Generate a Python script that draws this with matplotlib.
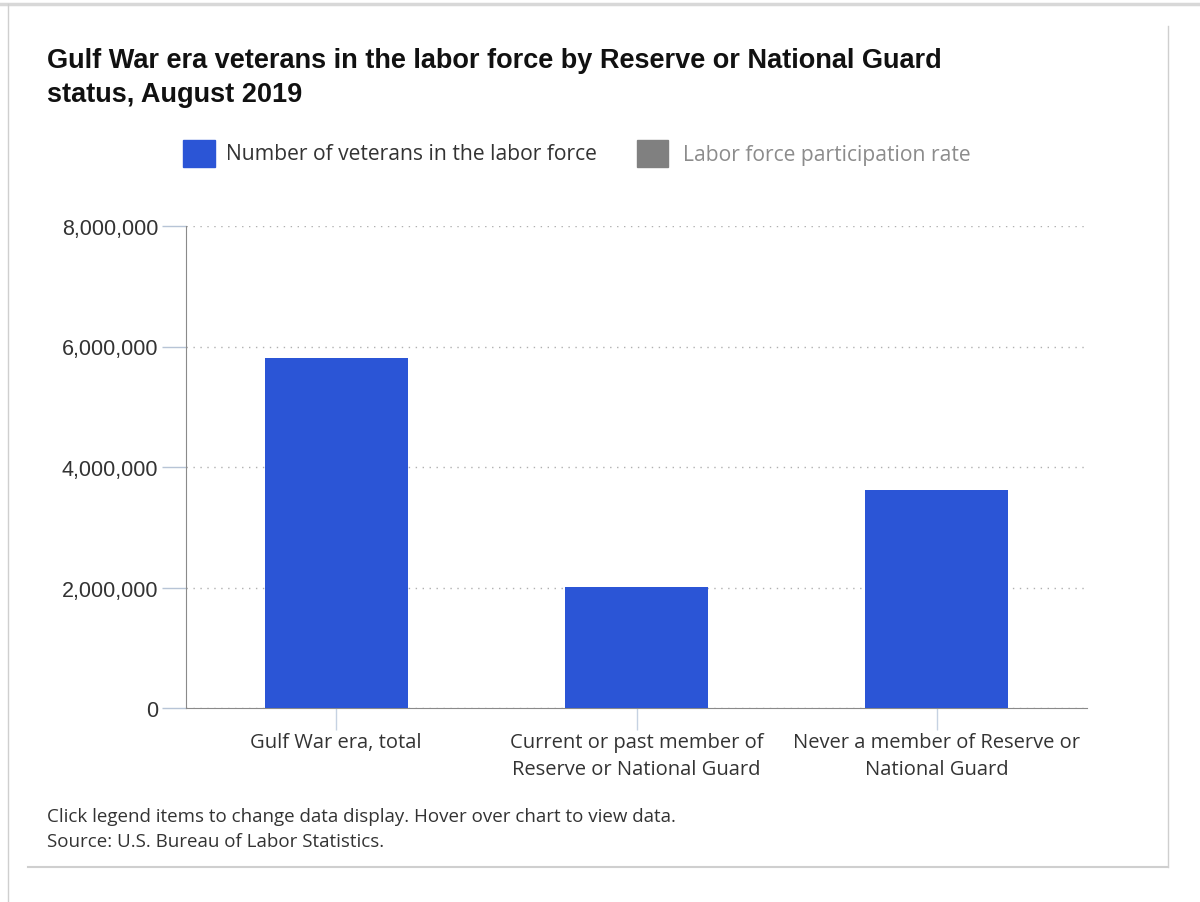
import matplotlib.pyplot as plt
from matplotlib.lines import Line2D
from matplotlib.patches import Rectangle
from matplotlib.ticker import FuncFormatter

categories = ["Gulf War era, total",
              "Current or past member of\nReserve or National Guard",
              "Never a member of Reserve or\nNational Guard"]
labor_force = [5810000, 2010000, 3620000]
y_ticks = [0, 2000000, 4000000, 6000000, 8000000]

W, H = 1200, 903
fig = plt.figure(figsize=(W / 100, H / 100), dpi=100)
fig.patch.set_facecolor("white")

def fx(px):
    return px / W

def fy(py):
    return 1 - py / H

# page frame around the chart
frame = "#cfcfcf"
fig.add_artist(Line2D([0, 1], [fy(5), fy(5)], color="#d8d8d8", lw=2.5))
fig.add_artist(Line2D([fx(8), fx(8)], [fy(5), 0], color=frame, lw=1))
fig.add_artist(Line2D([fx(1168), fx(1168)], [fy(27), fy(868)], color=frame, lw=1))
fig.add_artist(Line2D([fx(28), fx(1168)], [fy(868), fy(868)], color=frame, lw=1.5))

ax = fig.add_axes([fx(186), fy(709), fx(1087 - 186), (709 - 227) / H])
bar_color = "#2b55d6"
ax.bar(range(len(categories)), labor_force, width=0.477, color=bar_color, zorder=3)

ax.set_xlim(-0.5, 2.5)
ax.set_ylim(0, 8000000)
ax.set_yticks(y_ticks)
ax.yaxis.set_major_formatter(FuncFormatter(lambda v, p: f"{int(v):,}"))
ax.set_xticks(range(len(categories)))
ax.set_xticklabels(categories, fontsize=14.5, color="#333333", family="Open Sans",
                   linespacing=1.5)
for lab in ax.get_yticklabels():
    lab.set_family("Liberation Sans")
ax.tick_params(axis="y", length=17, width=1, color="#b7c4d6", labelsize=15.5,
               labelcolor="#333333", pad=3)
ax.tick_params(axis="x", length=16, width=1, color="#c6d2e2", pad=1)

ax.grid(axis="y", color="#b0b0b0", linestyle=(0, (1, 4)), lw=1, zorder=0)
for side in ["top", "right"]:
    ax.spines[side].set_visible(False)
ax.spines["left"].set_color("#8a8a8a")
ax.spines["bottom"].set_color("#8a8a8a")

# title
fig.text(fx(47), fy(78), "Gulf War era veterans in the labor force by Reserve or National Guard\nstatus, August 2019",
         fontsize=19.5, fontweight="bold", family="Liberation Sans", color="#111111",
         va="center", linespacing=1.42)

# legend
fig.add_artist(Rectangle((fx(183), fy(168)), fx(32), 27 / H, color=bar_color))
fig.text(fx(226), fy(155), "Number of veterans in the labor force", fontsize=15.2,
         family="Open Sans", color="#333333", va="center")
fig.add_artist(Rectangle((fx(637), fy(168)), fx(31), 27 / H, color="#808080"))
fig.text(fx(683), fy(155), "Labor force participation rate", fontsize=15.2,
         family="Open Sans", color="#8c8c8c", va="center")

# notes
fig.text(fx(47), fy(817), "Click legend items to change data display. Hover over chart to view data.",
         fontsize=13.5, family="Open Sans", color="#333333", va="center")
fig.text(fx(47), fy(842), "Source: U.S. Bureau of Labor Statistics.",
         fontsize=13.5, family="Open Sans", color="#333333", va="center")

fig.savefig("out.png", dpi=100)
